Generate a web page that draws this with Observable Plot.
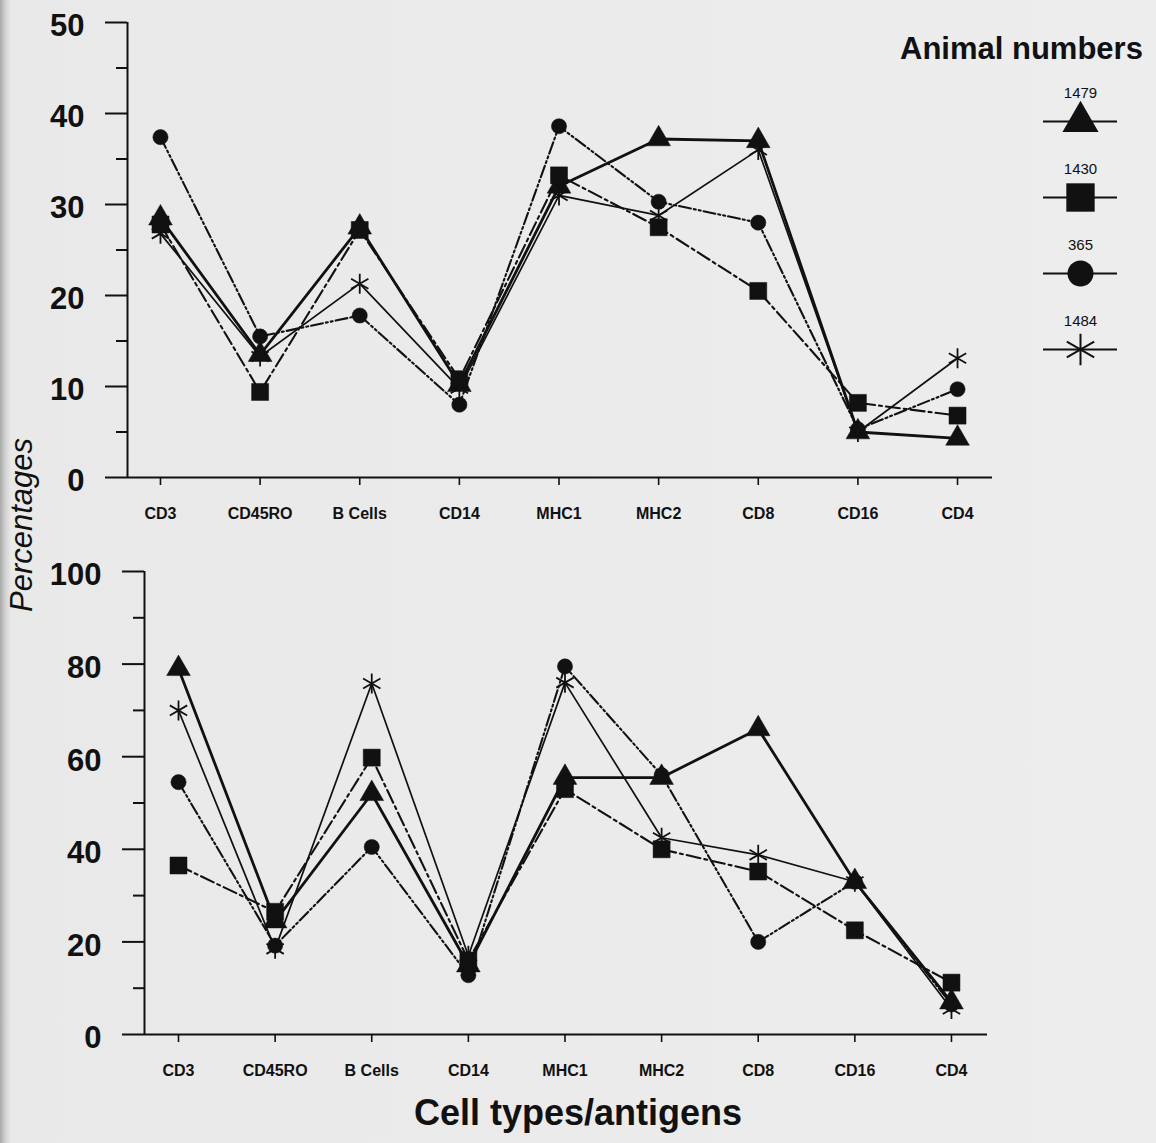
<!DOCTYPE html>
<html><head><meta charset="utf-8">
<script src="https://cdn.jsdelivr.net/npm/d3@7"></script>
<script src="https://cdn.jsdelivr.net/npm/@observablehq/plot@0.6"></script>
<style>
html,body{margin:0;padding:0;}
body{width:1156px;height:1143px;position:relative;overflow:hidden;
  background:linear-gradient(to right,#a8a8a8 0px,#cfcfcf 5px,#e9e9e9 11px,#ededed 100%);
  font-family:"Liberation Sans",Arial,sans-serif;color:#111;}
.abs{position:absolute;}
#legtitle{left:900px;top:33px;font-size:31px;line-height:31px;font-weight:bold;white-space:nowrap;}
#ylabel{left:-128px;top:507px;width:300px;height:36px;line-height:36px;text-align:center;
  font-size:31px;font-style:italic;transform:rotate(-90deg);white-space:nowrap;}
</style></head><body>
<div id="top" class="abs" style="left:0;top:0"></div>
<div id="bottom" class="abs" style="left:0;top:540px"></div>
<div id="legend" class="abs" style="left:1025px;top:60px"></div>
<div id="legtitle" class="abs">Animal numbers</div>
<div id="ylabel" class="abs">Percentages</div>
<script>
// ---- data ----
const categories = ["CD3","CD45RO","B Cells","CD14","MHC1","MHC2","CD8","CD16","CD4"];
const animals = ["1479","1430","365","1484"];

const topA_1479 = [28.5, 13.5, 27.5, 10.2, 32.0, 37.2, 37.0, 5.0, 4.3];
const topA_1430 = [27.8, 9.4, 27.2, 10.8, 33.2, 27.5, 20.5, 8.2, 6.8];
const topA_365  = [37.4, 15.5, 17.8, 8.0, 38.6, 30.3, 28.0, 5.3, 9.7];
const topA_1484 = [26.8, 13.3, 21.3, 9.8, 31.0, 28.8, 36.0, 5.0, 13.1];

const botB_1479 = [79.0, 24.5, 52.0, 15.0, 55.5, 55.5, 66.0, 33.0, 7.0];
const botB_1430 = [36.5, 26.5, 59.8, 16.0, 53.0, 40.0, 35.2, 22.5, 11.2];
const botB_365  = [54.5, 19.2, 40.5, 12.8, 79.5, 56.0, 20.0, 33.0, 6.5];
const botB_1484 = [70.0, 18.5, 75.8, 17.0, 76.0, 42.5, 38.8, 33.0, 5.5];

const topTicksMajor = [0,10,20,30,40,50];
const topTicksMinor = [5,15,25,35,45];
const botTicksMajor = [0,20,40,60,80,100];
const botTicksMinor = [10,30,50,70,90];

// ---- styles ----
const ink = "#111";
const styleOf = {
  "1479": {symbol:"triangle", r:8.8, lw:2.8, dash:null, fill:ink},
  "1430": {symbol:"square", r:9.6, lw:2.1, dash:"14,4,3,4", fill:ink},
  "365":  {symbol:"circle", r:7.6, lw:2.1, dash:"12,3,2,3,2,3", fill:ink},
  "1484": {symbol:"asterisk", r:9.5, lw:1.7, dash:null, fill:"none"}
};

function rowsFor(series){
  const out = [];
  animals.forEach(a => series[a].forEach((v,i) => out.push({animal:a, i, v})));
  return out;
}
const topRows = rowsFor({"1479":topA_1479,"1430":topA_1430,"365":topA_365,"1484":topA_1484});
const botRows = rowsFor({"1479":botB_1479,"1430":botB_1430,"365":botB_365,"1484":botB_1484});

function panel(o){
  const marks = [
    Plot.ruleX([o.xDomain[0]], {y1:0, y2:o.yMax, stroke:ink, strokeWidth:2}),
    Plot.ruleY([0], {stroke:ink, strokeWidth:2}),
    Plot.axisY({ticks:o.major, tickSize:22, label:null, strokeWidth:2, tickFormat:() => ""}),
    Plot.axisY({ticks:o.minor, tickSize:11, label:null, strokeWidth:2, tickFormat:() => ""}),
    Plot.text(o.major, {y:d => d, text:d => String(d), frameAnchor:"left", dx:-43, dy:4,
      textAnchor:"end", fontSize:31, fontWeight:"bold", fill:ink}),
    Plot.axisX({ticks:d3.range(categories.length), tickFormat:i => categories[i], tickSize:8, tickPadding:22,
      fontSize:16, fontWeight:"bold", label:null, strokeWidth:1.6})
  ];
  animals.forEach(a => {
    const s = styleOf[a];
    const d = o.rows.filter(r => r.animal === a);
    marks.push(Plot.line(d, {x:"i", y:"v", stroke:ink, strokeWidth:s.lw, strokeDasharray:s.dash}));
  });
  animals.forEach(a => {
    const s = styleOf[a];
    const d = o.rows.filter(r => r.animal === a);
    if (s.fill === "none")
      marks.push(Plot.dot(d, {x:"i", y:"v", symbol:s.symbol, r:s.r, stroke:ink, strokeWidth:1.8, fill:"none"}));
    else
      marks.push(Plot.dot(d, {x:"i", y:"v", symbol:s.symbol, r:s.r, fill:ink, stroke:ink, strokeWidth:0.5}));
  });
  if (o.title) marks.push(Plot.text([o.title], {frameAnchor:"bottom", dy:90, dx:12, fontSize:36, fontWeight:"bold", fill:ink}));
  return Plot.plot({
    width:1156, height:o.height,
    marginLeft:o.ml, marginRight:o.mr, marginTop:o.mt, marginBottom:o.mb,
    style:{background:"transparent", fontFamily:"Liberation Sans, Arial, sans-serif", color:ink, overflow:"visible"},
    x:{type:"linear", domain:o.xDomain},
    y:{domain:[0,o.yMax]},
    marks
  });
}

document.getElementById("top").append(panel({
  rows:topRows, yMax:50, major:topTicksMajor, minor:topTicksMinor,
  xDomain:[-0.331, 8.351], height:540, ml:127, mr:164, mt:22, mb:63
}));
document.getElementById("bottom").append(panel({
  rows:botRows, yMax:100, major:botTicksMajor, minor:botTicksMinor,
  xDomain:[-0.352, 8.373], height:603, ml:144, mr:169, mt:31, mb:109,
  title:"Cell types/antigens"
}));

// legend
const legMarks = [
  Plot.ruleY(animals, {y:d => d, stroke:ink, strokeWidth:2}),
  Plot.text(animals, {y:d => d, text:d => d, dy:-28, fontSize:15, fill:ink})
];
const legR = {"1479":13.4, "1430":16.0, "365":13, "1484":15};
animals.forEach(a => {
  const s = styleOf[a];
  if (s.fill === "none")
    legMarks.push(Plot.dot([a], {y:d => d, symbol:s.symbol, r:legR[a], stroke:ink, strokeWidth:2, fill:"none"}));
  else
    legMarks.push(Plot.dot([a], {y:d => d, symbol:s.symbol, r:legR[a], fill:ink}));
});
document.getElementById("legend").append(Plot.plot({
  width:110, height:310, marginLeft:18, marginRight:18, marginTop:60, marginBottom:20,
  style:{background:"transparent", fontFamily:"Liberation Sans, Arial, sans-serif", color:ink, overflow:"visible"},
  x:{domain:[0,1], axis:null},
  y:{type:"point", domain:animals, padding:0, axis:null},
  marks:legMarks
}));
</script>
</body></html>
